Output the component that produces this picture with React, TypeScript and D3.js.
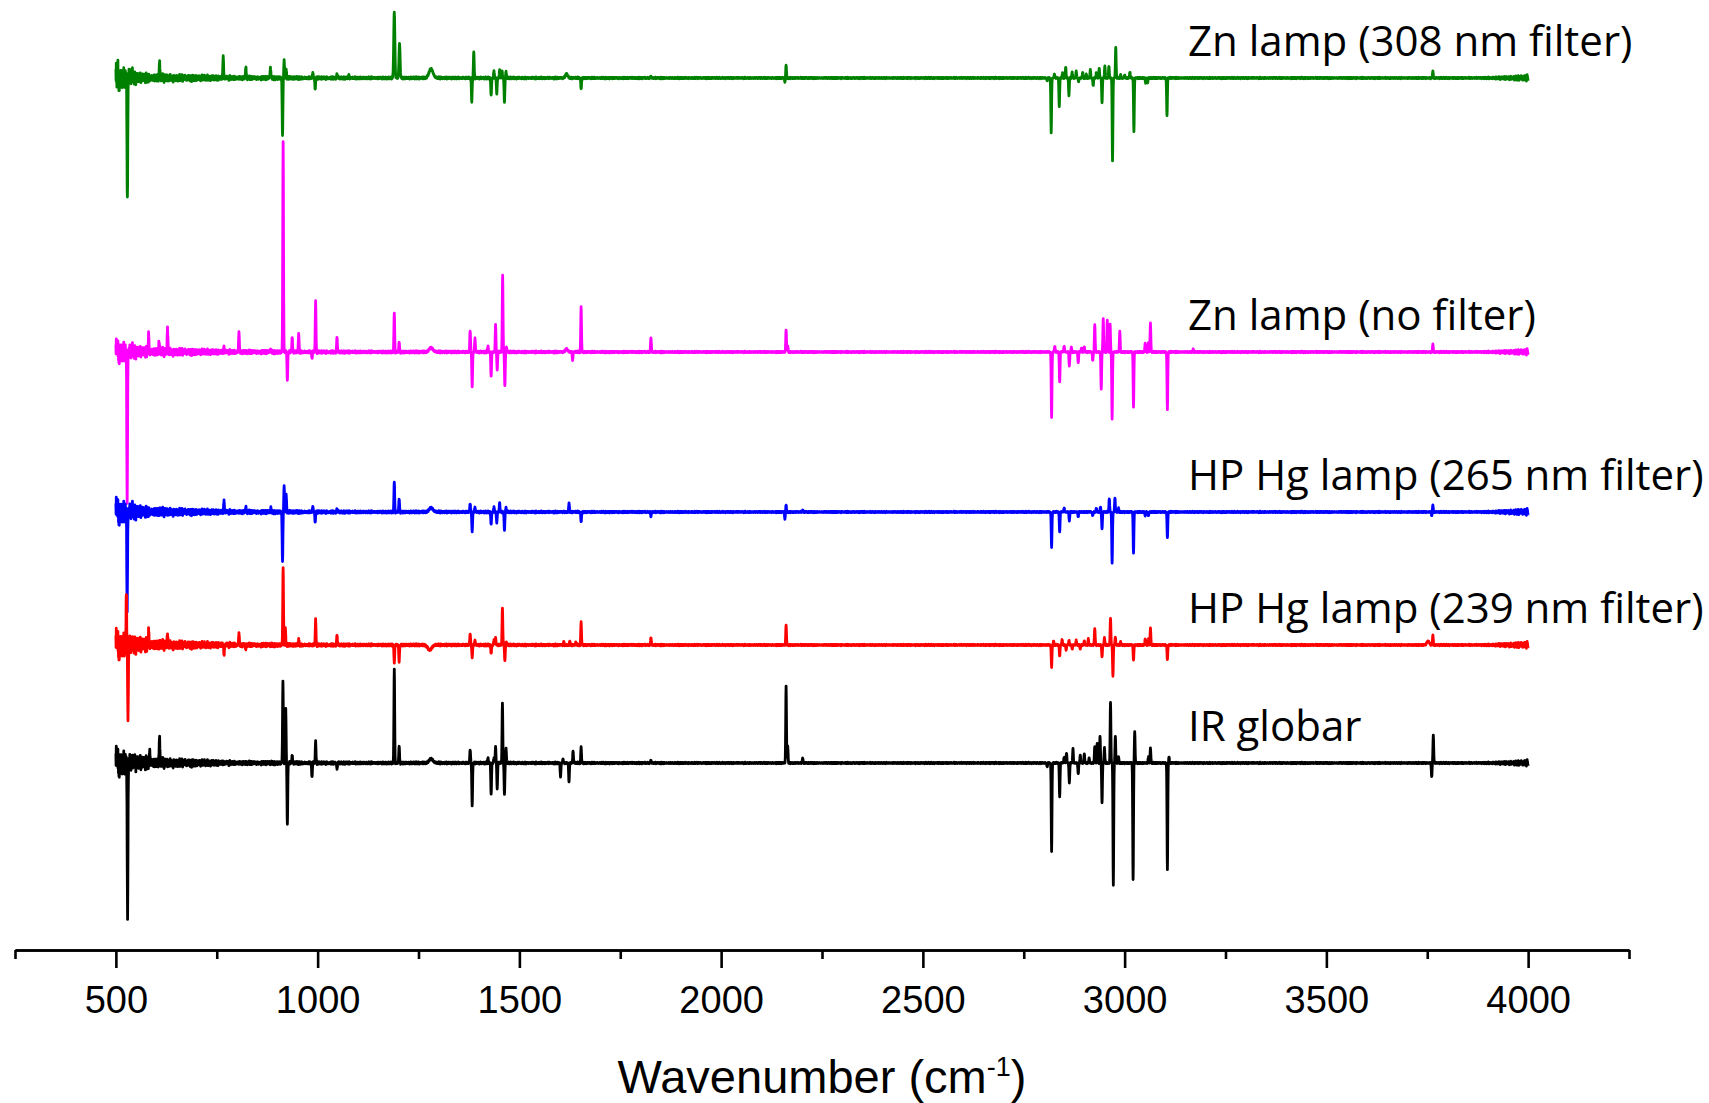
import React, { useEffect, useMemo, useRef } from "react";
import * as d3 from "d3";

const WIDTH = 1709;
const HEIGHT = 1103;

// x axis (wavenumber, cm-1)
const axisDomain = [250, 4250];
const majorTicks = [500, 1000, 1500, 2000, 2500, 3000, 3500, 4000];
const minorTicks = [250, 750, 1250, 1750, 2250, 2750, 3250, 3750, 4250];

// recorded spectral window
const spectrumStart = 500;
const spectrumEnd = 4000;
const sampleStep = 0.5;

const seriesNames = [
  "Zn lamp (308 nm filter)",
  "Zn lamp (no filter)",
  "HP Hg lamp (265 nm filter)",
  "HP Hg lamp (239 nm filter)",
  "IR globar",
];
const seriesColors = ["#008000", "#ff00ff", "#0000ff", "#ff0000", "#000000"];
// vertical stacking offsets of the difference spectra (arb. units)
const seriesOffsets = [8.72, 5.98, 4.38, 3.05, 1.87];

// bands: [wavenumber, intensity change, half-width (optional)]
const peaksZn308 = [
  [504, 0.12], [507, -0.1], [528.5, -1.24], [533, 0.06], [540, 0.07],
  [608, 0.16], [766, 0.22], [822, 0.11], [883, 0.11],
  [913, -0.58], [917, 0.18], [922, 0.09], [988, 0.05], [994, -0.11], [1048, 0.04], [1077, 0.03],
  [1190, 0.66, 1.4], [1203, 0.34, 1.4], [1281, 0.09, 5],
  [1382, -0.24], [1387, 0.27], [1430, -0.18], [1437, 0.07], [1444, -0.16], [1451, 0.08], [1457, 0.07], [1463, -0.25], [1467, 0.06],
  [1617, 0.04, 3], [1653, -0.11], [1826, 0.02], [2158, -0.04], [2161, 0.13],
  [2808, -0.03], [2818, -0.55], [2826, 0.04], [2838, -0.29], [2846, 0.05], [2854, 0.11], [2862, -0.17], [2870, 0.06],
  [2880, 0.07], [2886, -0.04], [2896, 0.06], [2905, 0.04], [2915, 0.08], [2922, -0.08], [2930, 0.06], [2937, 0.1],
  [2944, -0.25], [2951, 0.12], [2961, 0.12], [2970, -0.83], [2978, 0.31], [2990, 0.03], [3000, 0.03], [3013, 0.06],
  [3023, -0.54], [3052, -0.05], [3057, -0.05], [3105, -0.38], [3764, 0.07],
];

const peaksZnNoFilter = [
  [503, 0.1], [507, -0.08], [528, -1.46], [540, 0.05], [581, 0.17], [607, 0.12], [628, 0.24], [768, 0.05], [805, 0.2], [883, 0.03],
  [914.5, 2.1], [925, -0.28], [937, 0.15], [953, 0.18], [986, -0.06], [995, 0.5], [1048, 0.15],
  [1190, 0.39], [1202, 0.1], [1281, 0.04, 5],
  [1378, 0.22], [1383, -0.35], [1390, 0.14], [1422, 0.06], [1430, -0.25], [1441, 0.27], [1445, -0.18], [1458.5, 0.77], [1464, -0.34], [1468, 0.05],
  [1617, 0.03, 3], [1632, -0.08], [1653, 0.45], [1826, 0.15], [2161, 0.22], [2165, 0.06],
  [2819, -0.65], [2827, 0.06], [2839, -0.3], [2850, 0.06], [2863, -0.14], [2868, 0.05], [2885, -0.11], [2893, 0.04],
  [2900, 0.05], [2921, -0.09], [2926, 0.28], [2942, -0.37], [2947, 0.33], [2957, 0.32], [2964, 0.28], [2969, -0.67],
  [2988, 0.21], [3022, -0.55], [3051, 0.09], [3059, 0.09], [3064, 0.29], [3106, -0.58], [3170, 0.03], [3764, 0.08],
];

const peaksHg265 = [
  [503, 0.1], [507, -0.1], [528, -0.94], [540, 0.06], [768, 0.11], [822, 0.05], [884, 0.04],
  [913, -0.5], [917, 0.26], [922, 0.18], [988, 0.05], [994, -0.1], [1048, 0.03],
  [1190, 0.3], [1202, 0.13], [1281, 0.04, 5],
  [1378, 0.09], [1383, -0.2], [1390, 0.05], [1430, -0.13], [1437, 0.05], [1444, -0.11], [1451, 0.09], [1463, -0.19], [1467, 0.04],
  [1623, 0.09], [1653, -0.1], [1826, -0.04], [2158, -0.07], [2161, 0.07], [2202, 0.02],
  [2819, -0.35], [2839, -0.2], [2850, 0.04], [2863, -0.09], [2885, -0.05], [2921, -0.04], [2930, 0.04], [2940, 0.05],
  [2944, -0.17], [2962, 0.13], [2969, -0.51], [2976, 0.14], [2985, 0.04], [3022, -0.41], [3051, -0.04], [3059, -0.04],
  [3106, -0.26], [3761, -0.04], [3764, 0.07],
];

const peaksHg239 = [
  [503, 0.12], [507, -0.12], [526, 0.48], [530, -0.73], [581, 0.13], [628, 0.1], [768, -0.1], [805, 0.12], [822, -0.04],
  [914.5, 0.77], [920, 0.16], [953, 0.06], [995, 0.25], [1048, 0.1],
  [1190, -0.18], [1202, -0.17], [1278, -0.05, 5],
  [1378, 0.12], [1383, -0.13], [1390, 0.05], [1430, -0.09], [1437, 0.05], [1441, 0.07], [1458, 0.37], [1464, -0.16], [1468, 0.03],
  [1610, 0.03], [1625, 0.04], [1640, 0.03], [1653, 0.23], [1826, 0.08], [2161, 0.2],
  [2819, -0.22], [2824, 0.04], [2839, -0.11], [2845, 0.05], [2855, -0.05], [2862, 0.05], [2870, -0.04], [2880, 0.05],
  [2890, -0.04], [2900, 0.04], [2910, 0.06], [2926, 0.17], [2944, -0.12], [2950, 0.07], [2965, 0.27], [2971, -0.31],
  [2977, 0.08], [2990, 0.03], [3022, -0.15], [3051, 0.06], [3059, 0.06], [3064, 0.17], [3106, -0.15], [3752, 0.04, 3], [3764, 0.1],
];

const peaksGlobar = [
  [503, 0.12], [507, -0.1], [529, -1.55], [545, 0.06], [584, 0.13], [608, 0.26], [914, 0.81], [921, 0.53], [925, -0.61],
  [937, 0.08], [986, -0.14], [995, 0.21], [1048, -0.06],
  [1190, 0.94], [1202, 0.17], [1281, 0.04, 5],
  [1378, 0.14], [1383, -0.43], [1422, 0.05], [1430, -0.32], [1437, 0.05], [1441, 0.16], [1445, -0.26], [1458, 0.6], [1463, -0.32], [1467, 0.14],
  [1602, -0.14], [1608, 0.04], [1623, -0.19], [1633, 0.12], [1653, 0.16], [1826, 0.03], [2161, 0.77], [2165, 0.17], [2202, 0.05],
  [2808, -0.04], [2819, -0.88], [2839, -0.34], [2850, 0.06], [2856, 0.1], [2863, -0.2], [2872, 0.14], [2885, -0.11],
  [2890, 0.08], [2900, 0.09], [2912, 0.05], [2926, 0.17], [2932, 0.2], [2939, 0.27], [2944, -0.4], [2950, 0.15],
  [2965, 0.61], [2972, -1.22], [2977, 0.27], [2985, 0.06], [3021, -1.17], [3025, 0.31], [3059, 0.06], [3064, 0.15],
  [3106, -1.07], [3110, 0.06], [3761, -0.14], [3765, 0.28],
];

// baseline noise level along each spectrum: [wavenumber, amplitude]
const noiseZn308 = [[500, 0.17], [508, 0.12], [530, 0.08], [560, 0.05], [700, 0.03], [800, 0.02], [1100, 0.012], [2000, 0.007], [3880, 0.007], [3960, 0.018], [4000, 0.035]];
const noiseZnNoFilter = [[500, 0.14], [510, 0.11], [530, 0.08], [560, 0.055], [700, 0.03], [800, 0.02], [1100, 0.012], [2000, 0.007], [3880, 0.007], [3960, 0.018], [4000, 0.035]];
const noiseHg265 = [[500, 0.16], [510, 0.12], [530, 0.09], [570, 0.055], [700, 0.03], [800, 0.02], [1100, 0.012], [2000, 0.007], [3880, 0.007], [3960, 0.02], [4000, 0.038]];
const noiseHg239 = [[500, 0.18], [510, 0.13], [540, 0.09], [600, 0.055], [700, 0.035], [820, 0.02], [1100, 0.012], [2000, 0.007], [3880, 0.007], [3960, 0.02], [4000, 0.038]];
const noiseGlobar = [[500, 0.18], [510, 0.13], [540, 0.085], [600, 0.055], [700, 0.035], [800, 0.02], [1100, 0.012], [2000, 0.007], [3880, 0.007], [3960, 0.018], [4000, 0.035]];

// two fixed ripple sequences of co-prime length that texture the noise band
const ripplePrimary = [
  0.35, -0.6, 0.9, -0.25, 0.5, -1.0, 0.15, -0.45, 0.7, -0.3, 1.0, -0.55, 0.2, -0.8, 0.4, -0.15, 0.65, -0.9, 0.3,
  -0.4, 0.85, -0.2, 0.55, -0.7, 0.1, -0.95, 0.45, -0.35, 0.75, -0.5, 0.25, -0.65, 0.95, -0.1, 0.6, -0.85, 0.2,
];
const rippleSecondary = [0.6, -0.2, -0.9, 0.4, 1.0, -0.5, 0.1, -0.7, 0.8, 0.3, -1.0, 0.5, -0.3, 0.9, -0.6, 0.2, -0.4, 0.7, -0.8, 0.0, 0.5, -0.1, 0.35];

const seriesPeaks = [peaksZn308, peaksZnNoFilter, peaksHg265, peaksHg239, peaksGlobar];
const seriesNoise = [noiseZn308, noiseZnNoFilter, noiseHg265, noiseHg239, noiseGlobar];

function buildSpectrum(peaks: number[][], noise: number[][]): [number, number][] {
  const env = d3
    .scaleLinear()
    .domain(noise.map((d) => d[0]))
    .range(noise.map((d) => d[1]))
    .clamp(true);
  const pts: [number, number][] = [];
  const n = Math.round((spectrumEnd - spectrumStart) / sampleStep);
  for (let i = 0; i <= n; i++) {
    const w = spectrumStart + i * sampleStep;
    const ripple =
      0.7 * ripplePrimary[i % ripplePrimary.length] +
      0.45 * rippleSecondary[Math.floor(i / 3) % rippleSecondary.length];
    let v = env(w) * ripple;
    for (const p of peaks) {
      const s = p[2] ?? 0.9;
      const d = (w - p[0]) / s;
      if (Math.abs(d) < 7) v += p[1] * Math.exp(-0.5 * d * d);
    }
    pts.push([w, v]);
  }
  return pts;
}

const AXIS_Y = 950;
const FONT_AXIS = "'Liberation Sans', Arial, Helvetica, sans-serif";
const FONT_LABEL = "'Open Sans', 'Noto Sans', sans-serif";

export default function App() {
  const axisRef = useRef<SVGGElement>(null);

  const x = useMemo(() => d3.scaleLinear().domain(axisDomain).range([15, 1629]), []);
  const y = useMemo(() => d3.scaleLinear().domain([0, 9.5]).range([AXIS_Y, 0]), []);

  const spectra = useMemo(
    () => seriesPeaks.map((p, i) => buildSpectrum(p, seriesNoise[i])),
    []
  );

  useEffect(() => {
    const g = d3.select(axisRef.current);
    g.selectAll("*").remove();
    const minor = g.append("g").call(
      d3.axisBottom(x).tickValues(minorTicks).tickSize(9).tickSizeOuter(0).tickFormat(() => "")
    );
    const major = g.append("g").call(
      d3.axisBottom(x).tickValues(majorTicks).tickSize(18).tickSizeOuter(0).tickFormat(d3.format("d"))
    );
    [minor, major].forEach((a) => {
      a.select(".domain").attr("stroke", "#000").attr("stroke-width", 2.6);
      a.selectAll(".tick line").attr("stroke", "#000").attr("stroke-width", 2.6);
    });
    major
      .selectAll(".tick text")
      .attr("y", 63)
      .attr("dy", 0)
      .attr("fill", "#000")
      .style("font-family", FONT_AXIS)
      .style("font-size", "38px");
  }, [x]);

  return (
    <svg
      width={WIDTH}
      height={HEIGHT}
      viewBox={`0 0 ${WIDTH} ${HEIGHT}`}
      style={{ position: "absolute", left: 0, top: 0, background: "#fff" }}
    >
      <rect x={0} y={0} width={WIDTH} height={HEIGHT} fill="#fff" />
      {spectra.map((pts, i) => {
        const line = d3
          .line<[number, number]>()
          .x((d) => x(d[0]))
          .y((d) => y(seriesOffsets[i] + d[1]));
        return (
          <path
            key={seriesNames[i]}
            d={line(pts) ?? ""}
            fill="none"
            stroke={seriesColors[i]}
            strokeWidth={2.8}
            strokeLinejoin="round"
          />
        );
      })}
      {seriesNames.map((name, i) => (
        <text
          key={name}
          x={1188}
          y={y(seriesOffsets[i]) - 22}
          fontFamily={FONT_LABEL}
          fontSize={42}
          fill="#000"
        >
          {name}
        </text>
      ))}
      <g ref={axisRef} transform={`translate(0,${AXIS_Y})`} />
      <text
        x={(x(axisDomain[0]) + x(axisDomain[1])) / 2}
        y={1093}
        textAnchor="middle"
        fontFamily={FONT_AXIS}
        fontSize={47}
        fill="#000"
      >
        Wavenumber (cm
        <tspan fontSize={27} dy={-17}>-1</tspan>
        <tspan dy={17}>)</tspan>
      </text>
    </svg>
  );
}
